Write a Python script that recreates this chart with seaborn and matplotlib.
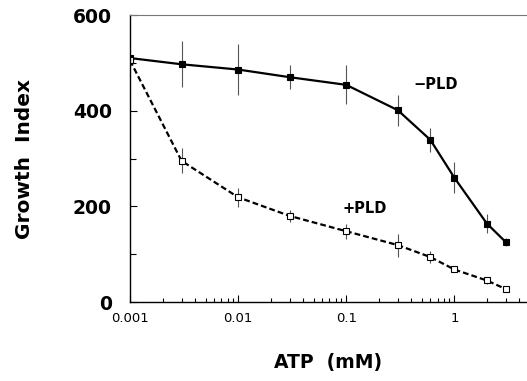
import numpy as np
import pandas as pd
import seaborn as sns
import matplotlib.pyplot as plt
from matplotlib.ticker import FixedLocator, NullFormatter

atp = [0.001, 0.003, 0.01, 0.03, 0.1, 0.3, 0.6, 1, 2, 3]
minus_pld = [510, 497, 486, 470, 454, 401, 339, 260, 164, 125]
minus_err = [5, 48, 53, 25, 41, 32, 25, 32, 20, 8]
plus_pld = [505, 295, 219, 180, 148, 119, 94, 68, 45, 27]
plus_err = [5, 26, 20, 12, 16, 24, 12, 4, 8, 5]

df = pd.DataFrame({
    'ATP': atp * 2,
    'GI': minus_pld + plus_pld,
    'err': minus_err + plus_err,
    'cond': ['-PLD'] * len(atp) + ['+PLD'] * len(atp),
})

sns.set_style('ticks', {'text.color': 'black', 'axes.labelcolor': 'black',
                        'xtick.color': 'black', 'ytick.color': 'black',
                        'axes.edgecolor': 'black'})
plt.rcParams['font.family'] = ['DejaVu Sans']

fig = plt.figure(figsize=(5.27, 3.81), dpi=100)
ax = fig.add_axes([0.2467, 0.2073, 0.7533, 0.7533])

# error bars first so markers sit on top
for c in ['-PLD', '+PLD']:
    d = df[df['cond'] == c]
    ax.errorbar(d['ATP'], d['GI'], yerr=d['err'], fmt='none', ecolor='#555555',
                elinewidth=0.8, capsize=0, zorder=1)

sns.lineplot(data=df, x='ATP', y='GI', style='cond', hue='cond',
             palette={'-PLD': 'black', '+PLD': 'black'},
             dashes={'-PLD': '', '+PLD': (2.6, 1.4)},
             markers={'-PLD': 's', '+PLD': 's'},
             legend=False, ax=ax, zorder=2, linewidth=1.6, markersize=5,
             markeredgecolor='black', markeredgewidth=0.8)

# open markers for +PLD
for ln in ax.get_lines():
    if ln.get_linestyle() not in ('-', 'solid'):
        ln.set_markerfacecolor('white')

ax.set_xscale('log')
ax.set_xlim(0.001, 4.7)
ax.set_ylim(0, 600)
ax.set_xticks([0.001, 0.01, 0.1, 1])
ax.set_xticklabels(['0.001', '0.01', '0.1', '1'], fontsize=9.5)
ax.set_yticks([0, 200, 400, 600])
ax.set_yticklabels(['0', '200', '400', '600'], fontsize=13.5, fontweight='bold')
ax.yaxis.set_minor_locator(FixedLocator([100, 300, 500]))
ax.tick_params(axis='both', which='both', direction='in', width=0.8)
ax.tick_params(axis='y', which='major', length=5, pad=13)
ax.tick_params(axis='y', which='minor', length=4)
ax.tick_params(axis='x', which='major', length=5, pad=7)
ax.tick_params(axis='x', which='minor', length=3)
ax.xaxis.set_minor_formatter(NullFormatter())

ax.spines['right'].set_visible(False)
ax.spines['top'].set_color('#777777')
ax.spines['left'].set_linewidth(1.0)
ax.spines['bottom'].set_linewidth(1.0)

ax.set_xlabel('ATP  (mM)', fontsize=13.5, fontweight='bold', labelpad=20)
ax.set_ylabel('Growth  Index', fontsize=14.5, fontweight='bold', labelpad=28)

ax.text(0.42, 455, '\u2212PLD', fontsize=10.5, fontweight='bold', ha='left', va='center')
ax.text(0.092, 196, '+PLD', fontsize=10.5, fontweight='bold', ha='left', va='center')

fig.savefig('out.png', dpi=100)
